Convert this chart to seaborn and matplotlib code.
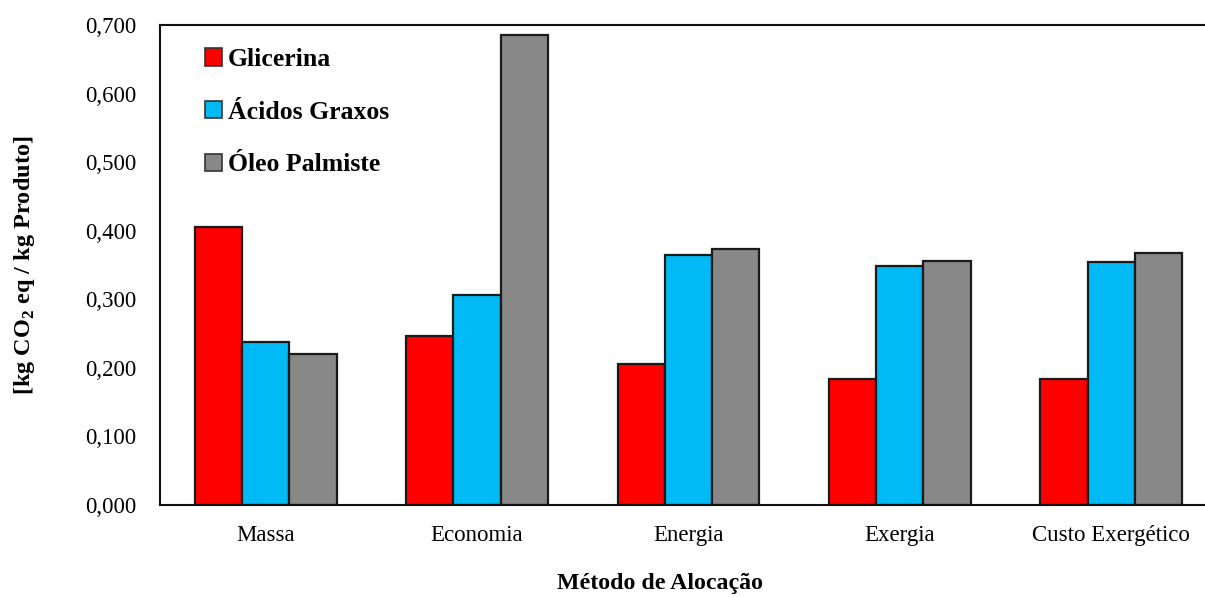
import numpy as np
import pandas as pd
import matplotlib
matplotlib.use("Agg")
import matplotlib.pyplot as plt
from matplotlib.ticker import FuncFormatter
import seaborn as sns

metodos = ["Massa", "Economia", "Energia", "Exergia", "Custo Exergético"]
produtos = ["Glicerina", "Ácidos Graxos", "Óleo Palmiste"]
glicerina = [0.406, 0.246, 0.206, 0.184, 0.184]
acidos_graxos = [0.238, 0.307, 0.364, 0.348, 0.354]
oleo_palmiste = [0.220, 0.685, 0.374, 0.356, 0.367]
cores = ["#FF0000", "#00BAF5", "#888888"]

df = pd.DataFrame({
    "metodo": metodos * 3,
    "produto": [p for p in produtos for _ in metodos],
    "valor": glicerina + acidos_graxos + oleo_palmiste,
})

sns.set_style("white")
plt.rcParams["font.family"] = ["Liberation Serif", "DejaVu Serif"]
plt.rcParams["mathtext.fontset"] = "custom"
plt.rcParams["mathtext.rm"] = "Liberation Serif"
plt.rcParams["mathtext.bf"] = "Liberation Serif:bold"
plt.rcParams["text.color"] = "black"
plt.rcParams["axes.labelcolor"] = "black"

fig = plt.figure(figsize=(12.05, 5.97), dpi=100)
ax = fig.add_axes([0.1328, 0.154, 0.877, 0.804])

sns.barplot(data=df, x="metodo", y="valor", hue="produto", hue_order=produtos,
            palette=cores, width=0.67, edgecolor="#1a1a1a", linewidth=1.6,
            saturation=1, ax=ax)

ax.set_ylim(0, 0.7)
ax.set_xlim(-0.5, 4.5)
ax.set_yticks(np.arange(0, 0.71, 0.1))
ax.yaxis.set_major_formatter(FuncFormatter(lambda v, p: f"{v:.3f}".replace(".", ",")))
ax.tick_params(axis="both", length=0, labelsize=16.5, colors="black")
ax.tick_params(axis="y", pad=17)
ax.tick_params(axis="x", pad=14)

for side in ["left", "bottom", "top", "right"]:
    ax.spines[side].set_linewidth(1.5)
    ax.spines[side].set_color("#111111")

ax.set_ylabel(r"[kg CO$_\mathbf{2}$ eq / kg Produto]", fontsize=17.5, fontweight="bold")
ax.yaxis.set_label_coords(-0.116, 0.5)
ax.set_xlabel("Método de Alocação", fontsize=17.2, fontweight="bold")
ax.xaxis.set_label_coords(0.473, -0.142)

old = ax.get_legend()
handles = old.legend_handles
labels = [t.get_text() for t in old.texts]
old.remove()
leg = ax.legend(handles, labels, loc="upper left", bbox_to_anchor=(0.043, 0.952),
                frameon=False, prop={"weight": "bold", "size": 18.5},
                handlelength=0.66, handleheight=0.66, handletextpad=0.2,
                labelspacing=1.15, borderpad=0, borderaxespad=0)
for h in leg.legend_handles:
    h.set_edgecolor("#333333")
    h.set_linewidth(1.2)

fig.savefig("out.png", dpi=100)
